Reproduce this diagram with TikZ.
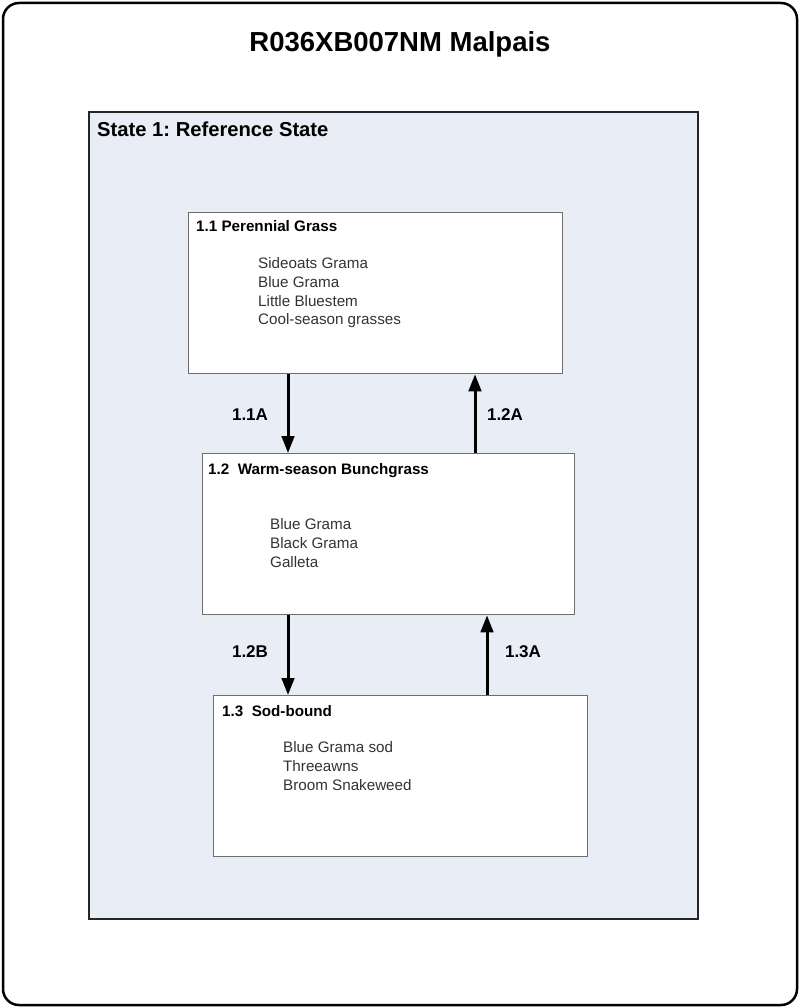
\documentclass[tikz,border=0pt]{standalone}
\usepackage{fontspec}
\setmainfont{Liberation Sans}
\usepackage{xcolor}
\usetikzlibrary{arrows.meta,positioning}
\frenchspacing

\definecolor{statefill}{HTML}{E9EDF6}
\definecolor{boxline}{HTML}{6E6E6E}
\definecolor{plant}{HTML}{333333}

\begin{document}
\begin{tikzpicture}[x=1pt,y=-1pt]
\tikzstyle{every node}+=[inner sep=0pt]
\tikzstyle{phase}=[draw=boxline,line width=1.3pt,fill=white,anchor=north west,minimum width=374pt,minimum height=161pt]
\tikzstyle{phasetitle}=[anchor=base west,font=\bfseries\fontsize{15.2}{18}\selectfont]
\tikzstyle{plants}=[anchor=north west,align=left,text=plant,font=\fontsize{15.2}{18.9}\selectfont]
\tikzstyle{trans}=[line width=3pt,-{Triangle[length=17pt,width=12.5pt]}]
\tikzstyle{translabel}=[font=\bfseries\fontsize{17}{20}\selectfont]
\useasboundingbox (0,0) rectangle (800,1008);
% outer frame and state box
\draw [black,line width=2.5pt,rounded corners=16pt] (3,3) rectangle (797,1005);
\draw [black!85,line width=2.5pt,fill=statefill] (89,112) rectangle (698,919);
\node [anchor=base,font=\bfseries\fontsize{27.5}{32}\selectfont] (title) at (400,52) {R036XB007NM Malpais};
\node [anchor=base west,font=\bfseries\fontsize{20.2}{24}\selectfont] (state) at (97,137) {State 1: Reference State};
% community phases
\node [phase] (p11) at (188,212) {};
\node [phase,minimum width=372pt] (p12) at (202,453) {};
\node [phase] (p13) at (213,695) {};
\node [phasetitle] (t11) at ([xshift=8pt,yshift=-20pt]p11.north west) {1.1 Perennial Grass};
\node [phasetitle] (t12) at ([xshift=6pt,yshift=-21pt]p12.north west) {1.2\ \ Warm-season Bunchgrass};
\node [phasetitle] (t13) at ([xshift=9pt,yshift=-21pt]p13.north west) {1.3\ \ Sod-bound};
\node [plants] (s11) at ([xshift=70pt,yshift=-45pt]p11.north west) {Sideoats Grama\\Blue Grama\\Little Bluestem\\Cool-season grasses};
\node [plants] (s12) at ([xshift=68pt,yshift=-65pt]p12.north west) {Blue Grama\\Black Grama\\Galleta};
\node [plants] (s13) at ([xshift=70pt,yshift=-46pt]p13.north west) {Blue Grama sod\\Threeawns\\Broom Snakeweed};
% transitions
\coordinate (down1) at (288,0);
\coordinate (up1) at (475,0);
\coordinate (down2) at (288,0);
\coordinate (up2) at (487,0);
\draw [trans] (p11.south -| down1) -- (p12.north -| down1);
\draw [trans] (p12.north -| up1) -- (p11.south -| up1);
\draw [trans] (p12.south -| down2) -- (p13.north -| down2);
\draw [trans] (p13.north -| up2) -- (p12.south -| up2);
\node [translabel] (l11a) at (250,415) {1.1A};
\node [translabel] (l12a) at (505,415) {1.2A};
\node [translabel] (l12b) at (250,652) {1.2B};
\node [translabel] (l13a) at (523,652) {1.3A};
\end{tikzpicture}
\end{document}
